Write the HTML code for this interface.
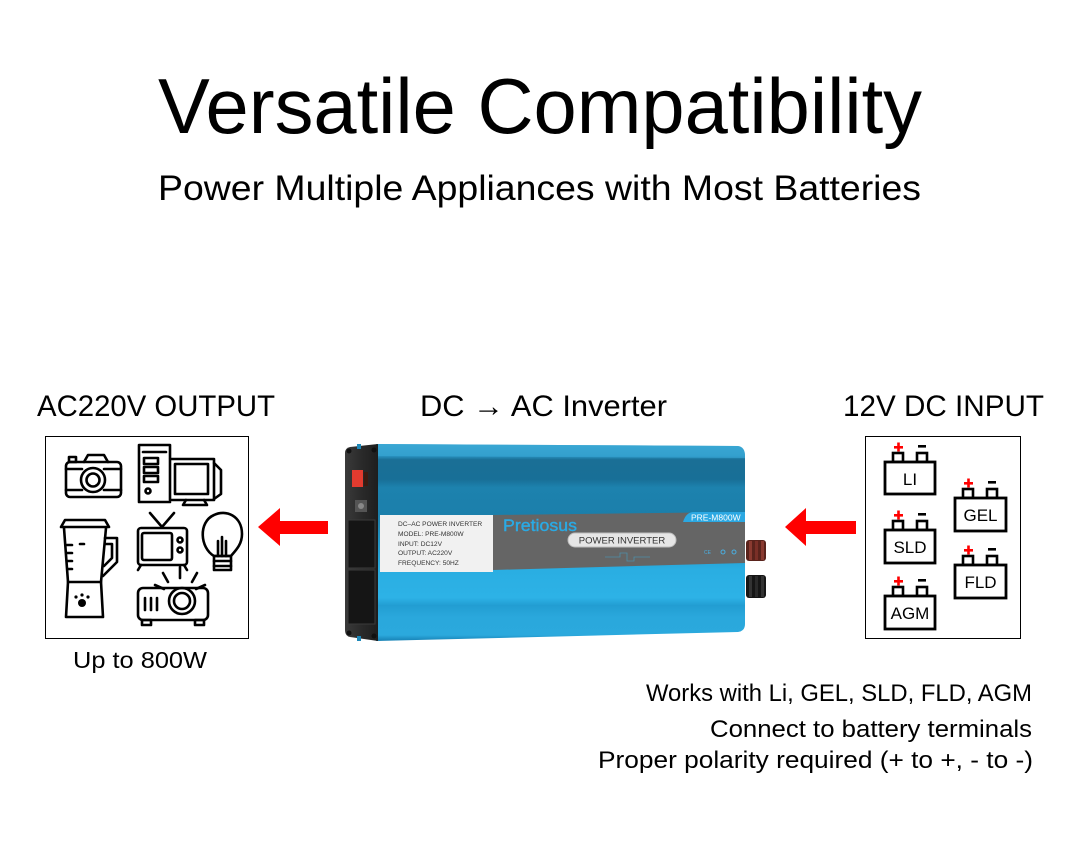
<!DOCTYPE html>
<html><head><meta charset="utf-8"><style>
html,body{margin:0;padding:0;background:#fff;}
svg{display:block;}
text{font-family:"Liberation Sans","DejaVu Sans",sans-serif;}
</style></head><body>
<svg width="1080" height="850" viewBox="0 0 1080 850" xmlns="http://www.w3.org/2000/svg">
<defs>
<linearGradient id="bodyg" x1="0" y1="0" x2="0" y2="1">
<stop offset="0" stop-color="#3aa6d2"/>
<stop offset="0.06" stop-color="#2a94c2"/>
<stop offset="0.08" stop-color="#1a6f96"/>
<stop offset="0.18" stop-color="#186f97"/>
<stop offset="0.22" stop-color="#1d82ae"/>
<stop offset="0.36" stop-color="#1b7fab"/>
<stop offset="0.64" stop-color="#2aaee2"/>
<stop offset="0.78" stop-color="#2db2e6"/>
<stop offset="0.82" stop-color="#229dd2"/>
<stop offset="0.88" stop-color="#2aa8dc"/>
<stop offset="0.97" stop-color="#2ba9dd"/>
<stop offset="1" stop-color="#1680b3"/>
</linearGradient>
<linearGradient id="capg" x1="0" y1="0" x2="1" y2="0">
<stop offset="0" stop-color="#3a3a3a"/>
<stop offset="0.5" stop-color="#2a2a2a"/>
<stop offset="1" stop-color="#1e1e1e"/>
</linearGradient>
</defs>

<!-- Titles -->
<text x="158" y="133" font-size="78" textLength="764" lengthAdjust="spacingAndGlyphs" fill="#000">Versatile Compatibility</text>
<text x="158" y="200" font-size="35" textLength="763" lengthAdjust="spacingAndGlyphs" fill="#000">Power Multiple Appliances with Most Batteries</text>

<!-- Headers -->
<text x="37" y="416" font-size="30" textLength="238" lengthAdjust="spacingAndGlyphs" fill="#000">AC220V OUTPUT</text>
<text x="420" y="416" font-size="30" textLength="247" lengthAdjust="spacingAndGlyphs" fill="#000">DC → AC Inverter</text>
<text x="843" y="416" font-size="30" textLength="201" lengthAdjust="spacingAndGlyphs" fill="#000">12V DC INPUT</text>

<!-- Left box -->
<rect x="45.5" y="436.5" width="203" height="202" fill="#fff" stroke="#000" stroke-width="1"/>
<g fill="none" stroke="#000" stroke-width="2.6" stroke-linejoin="round" stroke-linecap="round">
  <!-- camera -->
  <rect x="66" y="462" width="55" height="35" rx="4"/>
  <path d="M84 462 L88 455 L104 455 L108 462"/>
  <rect x="69" y="457" width="7" height="5"/>
  <circle cx="93" cy="480" r="12"/>
  <circle cx="93" cy="480" r="6.5"/>
  <line x1="66" y1="469" x2="82" y2="469"/>
  <line x1="104" y1="469" x2="121" y2="469"/>
  <line x1="66" y1="490" x2="82" y2="490"/>
  <line x1="104" y1="490" x2="121" y2="490"/>
  <!-- computer tower -->
  <path d="M170 458 L170 445 L139 445 L139 502 L170 502"/>
  <line x1="143" y1="452" x2="166" y2="452"/>
  <rect x="144" y="458" width="14" height="6"/>
  <rect x="144" y="467" width="14" height="6"/>
  <rect x="144" y="476" width="14" height="6"/>
  <circle cx="148" cy="491" r="2.5"/>
  <!-- monitor -->
  <rect x="170" y="459" width="44" height="41"/>
  <rect x="175" y="464" width="33" height="30"/>
  <path d="M214 463 L221 470 L221 494 L214 499"/>
  <path d="M186 500 L183 505 L207 505 L204 500"/>
  <!-- blender -->
  <path d="M61 527 L65 520 L105 520 L109 527 Z"/>
  <path d="M64 528 L68 582 L101 582 L106 528"/>
  <path d="M105 538 L117 538 L117 562 L103 576"/>
  <path d="M105 544 L112 544 L112 558 L104 566"/>
  <line x1="67" y1="545" x2="72" y2="545"/>
  <line x1="67" y1="553" x2="72" y2="553"/>
  <line x1="67" y1="561" x2="72" y2="561"/>
  <line x1="68" y1="569" x2="72" y2="569"/>
  <line x1="80" y1="544" x2="84" y2="544"/>
  <path d="M68 582 L66 617 L103 617 L101 582"/>
  <!-- tv -->
  <line x1="150" y1="513" x2="162" y2="527"/>
  <line x1="174" y1="513" x2="162" y2="527"/>
  <rect x="138" y="528" width="49" height="37" rx="3"/>
  <rect x="142" y="533" width="30" height="27" rx="2"/>
  <circle cx="180" cy="540" r="2.5"/>
  <circle cx="180" cy="550" r="2.5"/>
  <path d="M141 565 L138 570 M184 565 L187 570"/>
  <!-- bulb -->
  <path d="M214 556 C 200 548 198 522 214 515 C 226 509 242 516 242 534 C 242 545 235 551 231 556 Z"/>
  <rect x="214" y="556" width="17" height="14"/>
  <line x1="214" y1="561" x2="231" y2="561"/>
  <line x1="214" y1="566" x2="231" y2="566"/>
  <path d="M218 556 L218 541 M222 556 L222 537 M226 556 L226 541"/>
  <!-- projector -->
  <rect x="138" y="588" width="70" height="32" rx="5"/>
  <circle cx="182" cy="601" r="13"/>
  <circle cx="182" cy="601" r="8"/>
  <line x1="145" y1="598" x2="145" y2="610"/>
  <line x1="151" y1="598" x2="151" y2="610"/>
  <line x1="157" y1="598" x2="157" y2="610"/>
  <rect x="142" y="620" width="9" height="5"/>
  <rect x="195" y="620" width="9" height="5"/>
  <line x1="163" y1="573" x2="168" y2="582"/>
  <line x1="180" y1="567" x2="180" y2="578"/>
  <line x1="197" y1="573" x2="192" y2="582"/>
  <line x1="155" y1="585" x2="164" y2="589"/>
  <line x1="205" y1="585" x2="196" y2="589"/>
</g>
<circle cx="82" cy="603" r="4" fill="#000"/>
<circle cx="76" cy="597" r="1.6" fill="#000"/>
<circle cx="82" cy="595" r="1.6" fill="#000"/>
<circle cx="88" cy="597" r="1.6" fill="#000"/>
<text x="73" y="668" font-size="23" textLength="134" lengthAdjust="spacingAndGlyphs" fill="#000">Up to 800W</text>

<!-- Arrows -->
<polygon points="258,527 280,508 280,521 328,521 328,534 280,534 280,546" fill="#ff0000"/>
<polygon points="785,527 806,508 806,521 856,521 856,534 806,534 806,546" fill="#ff0000"/>

<!-- Inverter -->
<g>
  <path d="M376 444 L738 446 Q745 447 745 456 L745 624 Q745 631 738 632 L376 641 Z" fill="url(#bodyg)"/>
  <path d="M376 444 L738 446 Q745 447 745 456 L745 458 L376 456 Z" fill="#3ba9d6" opacity="0.6"/>
  <!-- endcap -->
  <path d="M350 447 L378 444 L378 641 L350 637 Q345 636 345 630 L345 453 Q345 448 350 447 Z" fill="url(#capg)"/>
  <circle cx="349" cy="451" r="2.5" fill="#111"/>
  <circle cx="374" cy="450" r="2.5" fill="#111"/>
  <circle cx="349" cy="633" r="2.5" fill="#111"/>
  <circle cx="374" cy="636" r="2.5" fill="#111"/>
  <rect x="357" y="444" width="4" height="5" fill="#1e88b8"/>
  <rect x="357" y="636" width="4" height="5" fill="#1e88b8"/>
  <rect x="352" y="470" width="11" height="17" fill="#e23b2f"/>
  <rect x="364" y="472" width="4" height="14" fill="#3a1a10"/>
  <rect x="355" y="500" width="12" height="12" fill="#555"/>
  <circle cx="361" cy="506" r="3" fill="#888"/>
  <rect x="348" y="520" width="27" height="48" fill="#151515" stroke="#3a3a3a" stroke-width="1"/>
  <rect x="348" y="570" width="27" height="54" fill="#151515" stroke="#3a3a3a" stroke-width="1"/>
  <!-- label -->
  <rect x="380" y="515" width="113" height="57" fill="#f1f1f1"/>
  <g font-size="6.6" fill="#333">
    <text x="398" y="526">DC–AC POWER INVERTER</text>
    <text x="398" y="536">MODEL:  PRE-M800W</text>
    <text x="398" y="546">INPUT:  DC12V</text>
    <text x="398" y="555">OUTPUT:  AC220V</text>
    <text x="398" y="565">FREQUENCY:  50HZ</text>
  </g>
  <!-- gray band -->
  <polygon points="493,515 745,512 745,563 493,570" fill="#656565"/>
  <path d="M683 522 Q686 512 694 512 L745 512 L745 522 Z" fill="#2ba8e2"/>
  <text x="691" y="520.5" font-size="8.5" fill="#fff">PRE-M800W</text>
  <text x="503" y="531" font-size="16.5" textLength="74" lengthAdjust="spacingAndGlyphs" fill="#2aaae4" stroke="#2aaae4" stroke-width="0.4">Pretiosus</text>
  <rect x="568" y="533" width="108" height="14" rx="7" fill="#e6e6e6" stroke="#bdbdbd" stroke-width="1"/>
  <text x="622" y="543.5" font-size="9.5" text-anchor="middle" fill="#333">POWER INVERTER</text>
  <path d="M605 557 L620 557 L620 553 L627 553 L627 561 L634 561 L634 557 L650 557" fill="none" stroke="#4d8fa8" stroke-width="0.8"/>
  <text x="704" y="554" font-size="5" fill="#4aaee0">CE</text>
  <circle cx="723" cy="552" r="2" fill="none" stroke="#4aaee0" stroke-width="1"/>
  <circle cx="734" cy="552" r="2" fill="none" stroke="#4aaee0" stroke-width="1"/>
  <!-- terminals -->
  <rect x="746" y="540" width="20" height="21" rx="3" fill="#5a231c"/>
  <rect x="749" y="541" width="3" height="19" fill="#8a3a30"/>
  <rect x="755" y="541" width="3" height="19" fill="#7a2f27"/>
  <rect x="761" y="541" width="3" height="19" fill="#8a3a30"/>
  <rect x="746" y="575" width="20" height="23" rx="3" fill="#161616"/>
  <rect x="749" y="576" width="3" height="21" fill="#333"/>
  <rect x="755" y="576" width="3" height="21" fill="#2a2a2a"/>
  <rect x="761" y="576" width="3" height="21" fill="#333"/>
</g>

<!-- Right box -->
<rect x="865.5" y="436.5" width="155" height="202" fill="#fff" stroke="#000" stroke-width="1"/>
<g id="bats">
  <g transform="translate(885,462)">
    <rect x="8" y="-9" width="10" height="9" fill="#fff" stroke="#000" stroke-width="2.6"/>
    <rect x="32" y="-9" width="10" height="9" fill="#fff" stroke="#000" stroke-width="2.6"/>
    <rect x="0" y="0" width="50" height="32" fill="#fff" stroke="#000" stroke-width="2.8"/>
    <text x="25" y="23" font-size="17" text-anchor="middle" fill="#000">LI</text>
  </g>
  <g transform="translate(885,530)">
    <rect x="8" y="-9" width="10" height="9" fill="#fff" stroke="#000" stroke-width="2.6"/>
    <rect x="32" y="-9" width="10" height="9" fill="#fff" stroke="#000" stroke-width="2.6"/>
    <rect x="0" y="0" width="50" height="33" fill="#fff" stroke="#000" stroke-width="2.8"/>
    <text x="25" y="23" font-size="17" text-anchor="middle" fill="#000">SLD</text>
  </g>
  <g transform="translate(885,596)">
    <rect x="8" y="-9" width="10" height="9" fill="#fff" stroke="#000" stroke-width="2.6"/>
    <rect x="32" y="-9" width="10" height="9" fill="#fff" stroke="#000" stroke-width="2.6"/>
    <rect x="0" y="0" width="50" height="33" fill="#fff" stroke="#000" stroke-width="2.8"/>
    <text x="25" y="23" font-size="17" text-anchor="middle" fill="#000">AGM</text>
  </g>
  <g transform="translate(955,498)">
    <rect x="8" y="-9" width="10" height="9" fill="#fff" stroke="#000" stroke-width="2.6"/>
    <rect x="32" y="-9" width="10" height="9" fill="#fff" stroke="#000" stroke-width="2.6"/>
    <rect x="0" y="0" width="51" height="33" fill="#fff" stroke="#000" stroke-width="2.8"/>
    <text x="25.5" y="23" font-size="17" text-anchor="middle" fill="#000">GEL</text>
  </g>
  <g transform="translate(955,565)">
    <rect x="8" y="-9" width="10" height="9" fill="#fff" stroke="#000" stroke-width="2.6"/>
    <rect x="32" y="-9" width="10" height="9" fill="#fff" stroke="#000" stroke-width="2.6"/>
    <rect x="0" y="0" width="51" height="33" fill="#fff" stroke="#000" stroke-width="2.8"/>
    <text x="25.5" y="23" font-size="17" text-anchor="middle" fill="#000">FLD</text>
  </g>
  <g fill="#ff0000">
    <rect x="894" y="446" width="9" height="2.6"/><rect x="897.2" y="442.5" width="2.6" height="9"/>
    <rect x="894" y="514" width="9" height="2.6"/><rect x="897.2" y="510.5" width="2.6" height="9"/>
    <rect x="894" y="580" width="9" height="2.6"/><rect x="897.2" y="576.5" width="2.6" height="9"/>
    <rect x="964" y="482" width="9" height="2.6"/><rect x="967.2" y="478.5" width="2.6" height="9"/>
    <rect x="964" y="549" width="9" height="2.6"/><rect x="967.2" y="545.5" width="2.6" height="9"/>
  </g>
  <g fill="#000">
    <rect x="918" y="445" width="8" height="2.6"/>
    <rect x="918" y="513" width="8" height="2.6"/>
    <rect x="918" y="579" width="8" height="2.6"/>
    <rect x="988" y="481" width="8" height="2.6"/>
    <rect x="988" y="548" width="8" height="2.6"/>
  </g>
</g>

<!-- Bottom notes -->
<g font-size="24" fill="#000" text-anchor="end">
  <text x="1032" y="701" textLength="386" lengthAdjust="spacingAndGlyphs">Works with Li, GEL, SLD, FLD, AGM</text>
  <text x="1032" y="737" textLength="322" lengthAdjust="spacingAndGlyphs">Connect to battery terminals</text>
  <text x="1033" y="768" textLength="435" lengthAdjust="spacingAndGlyphs">Proper polarity required (+ to +, - to -)</text>
</g>
</svg>
</body></html>
